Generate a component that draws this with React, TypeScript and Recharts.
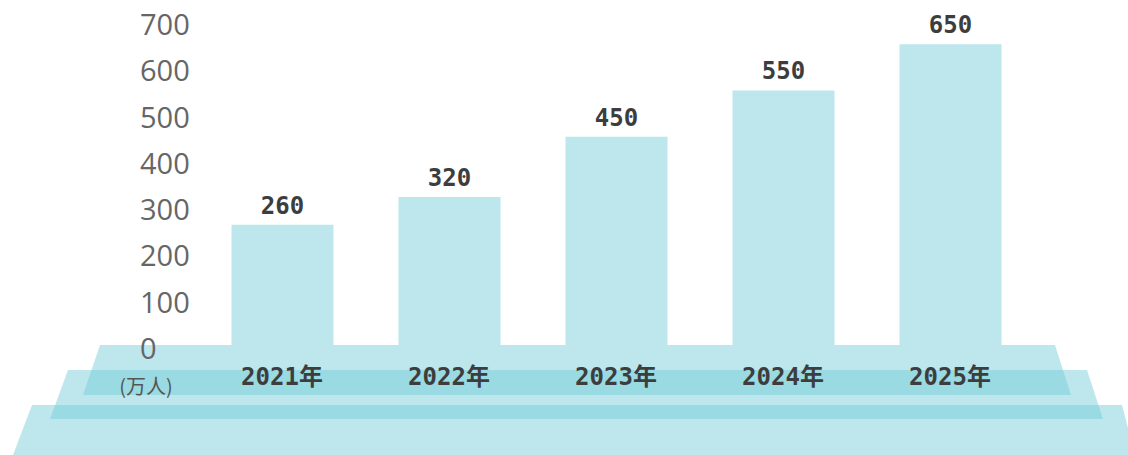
import { BarChart, Bar, XAxis, YAxis, LabelList } from 'recharts'

const years = ['2021年', '2022年', '2023年', '2024年', '2025年']
const values = [260, 320, 450, 550, 650]
const yTicks = [0, 100, 200, 300, 400, 500, 600, 700]

const data = years.map((year, i) => ({ year, value: values[i] }))

const W = 1128
const H = 455
const BAR = '#bde7ec'
const PLATE = '#73ccd7'
const DIGI = "'DejaVu Sans Mono', 'Noto Sans CJK SC', monospace"

// stacked translucent base plates under the bars
const plates = [
  '100,345 1055,345 1071,395 83,395',
  '68,370 1087,370 1103,419 50,419',
  '32,405 1122,405 1135,455 13,455',
]

const YTick = ({ x, y, payload }: any) => (
  <text x={x - 58.5} y={y + 2.5} textAnchor="start" dominantBaseline="central"
    fill="#666" fontSize={29} fontFamily="'Open Sans', 'Noto Sans', sans-serif">
    {payload.value}
  </text>
)

const XTick = ({ x, y, payload }: any) => (
  <text x={x} y={y + 32} textAnchor="middle" dominantBaseline="central"
    fill="#3d3d3d" fontSize={24} fontWeight="bold" fontFamily={DIGI}>
    {payload.value}
  </text>
)

const ValueLabel = ({ x, y, width, value }: any) => (
  <text x={x + width / 2} y={y - 19} textAnchor="middle" dominantBaseline="central"
    fill="#3d3d3d" fontSize={24} fontWeight="bold" fontFamily={DIGI}>
    {value}
  </text>
)

export default function App() {
  return (
    <div style={{ position: 'absolute', left: 0, top: 0, width: W, height: H, background: '#fff' }}>
      <svg width={W} height={H} style={{ position: 'absolute', left: 0, top: 0 }}>
        {plates.map((p, i) => (
          <polygon key={i} points={p} fill={PLATE} fillOpacity={0.47} />
        ))}
        <text x={146} y={385} textAnchor="middle" dominantBaseline="central" fill="#555"
          fontSize={20} fontFamily="'Noto Sans CJK SC', sans-serif">
          (万人)
        </text>
      </svg>
      <div style={{ position: 'absolute', left: 0, top: 0 }}>
        <BarChart width={W} height={H} data={data}
          margin={{ top: 21, right: 94.5, bottom: 80, left: 0 }}>
          <XAxis dataKey="year" axisLine={false} tickLine={false} tickSize={0} tickMargin={0}
            height={30} tick={<XTick />} interval={0} />
          <YAxis type="number" domain={[0, 700]} ticks={yTicks} width={198.5}
            axisLine={false} tickLine={false} tickSize={0} tickMargin={0} tick={<YTick />} interval={0} />
          <Bar dataKey="value" fill={BAR} barSize={102} isAnimationActive={false}>
            <LabelList dataKey="value" content={<ValueLabel />} />
          </Bar>
        </BarChart>
      </div>
    </div>
  )
}
